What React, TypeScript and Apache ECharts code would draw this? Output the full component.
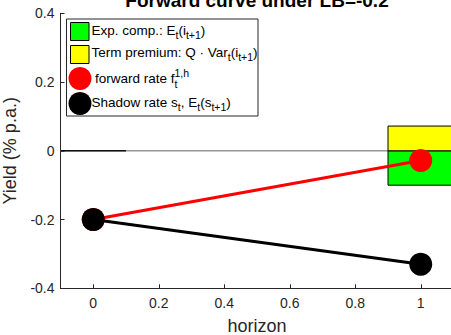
import React, { useEffect, useRef } from "react";
import * as echarts from "echarts";

// ---- data ----
const horizon = [0, 1];
const forwardRate = [-0.2, -0.028];
const shadowRate = [-0.2, -0.33];
const barHorizon = [1];
const expComp = [-0.1];
const termPremium = [0.072];
const xTicks = [0, 0.2, 0.4, 0.6, 0.8, 1];
const yTicks = [-0.4, -0.2, 0, 0.2, 0.4];
const zeroLineX = [-0.1, 1.1];
const zeroBlackX = [-0.1, 0.1];
const titleText = "Forward curve under LB=-0.2";

const FONT = '"Liberation Sans", Arial, Helvetica, sans-serif';
const AXIS_COLOR = "#262626";

type Seg = { t: string; k?: "sub" | "sup"; sup?: string };

function buildLine(x: number, y: number, segs: Seg[], size: number, small: number) {
  const canvas = document.createElement("canvas");
  const ctx = canvas.getContext("2d")!;
  const meas = (s: string, f: number) => {
    ctx.font = `${f}px ${FONT}`;
    return ctx.measureText(s).width;
  };
  const out: any[] = [];
  let cx = x;
  for (const s of segs) {
    if (!s.k) {
      out.push({ type: "text", x: cx, y, style: { text: s.t, fontSize: size, fontFamily: FONT, fill: "#000", verticalAlign: "middle", align: "left" } });
      cx += meas(s.t, size);
    } else {
      const dy = s.k === "sub" ? 5 : -6;
      out.push({ type: "text", x: cx, y: y + dy, style: { text: s.t, fontSize: small, fontFamily: FONT, fill: "#000", verticalAlign: "middle", align: "left" } });
      let wv = meas(s.t, small);
      if (s.sup) {
        out.push({ type: "text", x: cx, y: y - 6, style: { text: s.sup, fontSize: small, fontFamily: FONT, fill: "#000", verticalAlign: "middle", align: "left" } });
        wv = Math.max(wv, meas(s.sup, small));
      }
      cx += wv;
    }
  }
  return out;
}

export default function App() {
  const ref = useRef<HTMLDivElement>(null);
  useEffect(() => {
    if (!ref.current) return;
    const chart = echarts.init(ref.current, undefined, { renderer: "svg" });

    const mainSize = 13.5;
    const scriptSize = 10.5;
    const legendItems: any[] = [
      { type: "rect", shape: { x: 66.5, y: 19, width: 191.5, height: 97 }, style: { fill: "#fff", stroke: AXIS_COLOR, lineWidth: 1 } },
      { type: "rect", shape: { x: 70.5, y: 22.5, width: 18.5, height: 18 }, style: { fill: "#00ff00", stroke: "#000", lineWidth: 1 } },
      { type: "rect", shape: { x: 70.5, y: 45.5, width: 18.5, height: 18 }, style: { fill: "#ffff00", stroke: "#000", lineWidth: 1 } },
      { type: "circle", shape: { cx: 80, cy: 78.5, r: 11.5 }, style: { fill: "#ff0000" } },
      { type: "circle", shape: { cx: 80, cy: 103.5, r: 11.5 }, style: { fill: "#000" } },
      ...buildLine(91.5, 30, [{ t: "Exp. comp.: E" }, { t: "t", k: "sub" }, { t: "(i" }, { t: "t+1", k: "sub" }, { t: ")" }], mainSize, scriptSize),
      ...buildLine(91.5, 52, [{ t: "Term premium: Q \u00b7 Var" }, { t: "t", k: "sub" }, { t: "(i" }, { t: "t+1", k: "sub" }, { t: ")" }], mainSize, scriptSize),
      ...buildLine(95, 78.5, [{ t: "forward rate f" }, { t: "t", k: "sub", sup: "1,h" }], mainSize, scriptSize),
      ...buildLine(91.5, 102, [{ t: "Shadow rate s" }, { t: "t", k: "sub" }, { t: ", E" }, { t: "t", k: "sub" }, { t: "(s" }, { t: "t+1", k: "sub" }, { t: ")" }], mainSize, scriptSize),
    ];

    const barRender = (fill: string) => (params: any, api: any) => {
      const x = api.value(0);
      const lo = api.value(1);
      const hi = api.value(2);
      const p1 = api.coord([x - 0.1, hi]);
      const p2 = api.coord([x + 0.1, lo]);
      return {
        type: "rect",
        shape: { x: p1[0], y: p1[1], width: p2[0] - p1[0], height: p2[1] - p1[1] },
        style: { fill, stroke: "#000", lineWidth: 1 },
      };
    };

    chart.setOption({
      animation: false,
      grid: { left: 60.5, right: -2.5, top: 13.3, bottom: 46.7, containLabel: false, outerBoundsMode: "none" },
      xAxis: {
        type: "value",
        min: -0.1,
        max: 1.1,
        name: "horizon",
        nameLocation: "middle",
        nameGap: 29,
        nameTextStyle: { fontSize: 18, fontFamily: FONT, color: AXIS_COLOR },
        axisLine: { onZero: false, lineStyle: { color: AXIS_COLOR, width: 1 } },
        axisTick: { inside: true, length: 4, customValues: xTicks, lineStyle: { color: AXIS_COLOR } },
        axisLabel: { customValues: xTicks, fontSize: 14, fontFamily: FONT, color: AXIS_COLOR, margin: 8, formatter: (v: number) => String(v) },
        splitLine: { show: false },
      },
      yAxis: {
        type: "value",
        min: -0.4,
        max: 0.4,
        interval: 0.2,
        name: "Yield (% p.a.)",
        nameLocation: "middle",
        nameGap: 36,
        nameTextStyle: { fontSize: 18, fontFamily: FONT, color: AXIS_COLOR },
        axisLine: { show: true, onZero: false, lineStyle: { color: AXIS_COLOR, width: 1 } },
        axisTick: { show: true, inside: true, length: 4, customValues: yTicks, lineStyle: { color: AXIS_COLOR } },
        axisLabel: { customValues: yTicks, fontSize: 14, fontFamily: FONT, color: AXIS_COLOR, margin: 6, formatter: (v: number) => String(Math.round(v * 10) / 10) },
        splitLine: { show: false },
      },
      graphic: [
        { type: "text", x: 257, y: 0.5, style: { text: titleText, fontSize: 19, fontWeight: "bold", fontFamily: FONT, fill: "#000", align: "center", verticalAlign: "middle" }, z: 100 },
        { type: "group", children: legendItems, z: 100 },
      ],
      series: [
        {
          type: "line",
          data: zeroLineX.map((x) => [x, 0]),
          symbol: "none",
          lineStyle: { color: "#969696", width: 1.5 },
          z: 1,
          silent: true,
        },
        {
          type: "custom",
          renderItem: barRender("#00ff00"),
          data: barHorizon.map((x, i) => [x, expComp[i], 0]),
          z: 2,
          clip: false,
        },
        {
          type: "custom",
          renderItem: barRender("#ffff00"),
          data: barHorizon.map((x, i) => [x, 0, termPremium[i]]),
          z: 2,
          clip: false,
        },
        {
          type: "line",
          data: zeroBlackX.map((x) => [x, 0]),
          symbol: "none",
          lineStyle: { color: "#111", width: 1.5 },
          z: 3,
        },
        {
          type: "line",
          data: horizon.map((x, i) => [x, forwardRate[i]]),
          symbol: "circle",
          symbolSize: 23,
          itemStyle: { color: "#ff0000" },
          lineStyle: { color: "#ff0000", width: 3 },
          z: 4,
        },
        {
          type: "line",
          data: horizon.map((x, i) => [x, shadowRate[i]]),
          symbol: "circle",
          symbolSize: 23,
          itemStyle: { color: "#000" },
          lineStyle: { color: "#000", width: 3 },
          z: 5,
        },
      ],
    });
    return () => chart.dispose();
  }, []);
  return <div ref={ref} style={{ width: 451, height: 335, position: "absolute", left: 0, top: 0 }} />;
}
